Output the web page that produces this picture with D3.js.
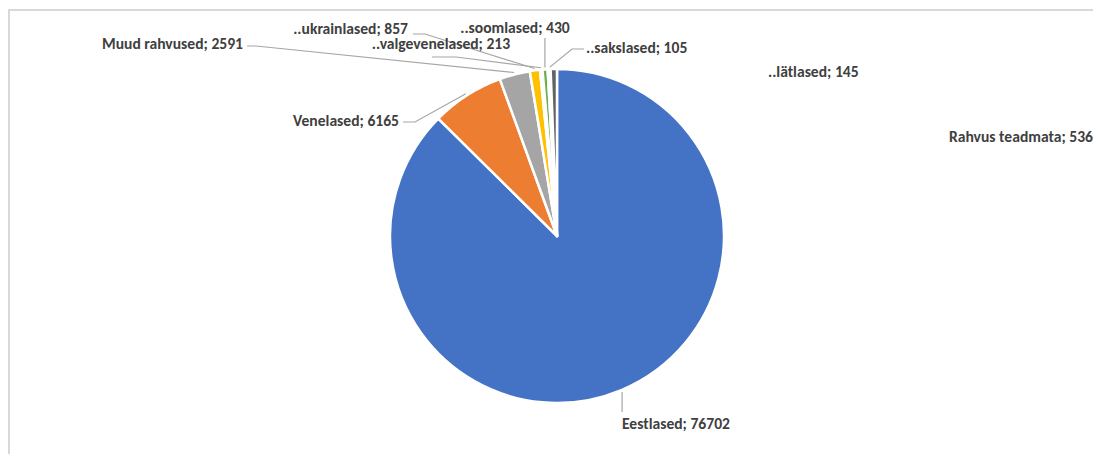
<!DOCTYPE html>
<html>
<head>
<meta charset="utf-8">
<script src="https://cdn.jsdelivr.net/npm/d3@7"></script>
<style>
  html, body { margin: 0; padding: 0; background: #fff; }
  svg { display: block; }
  .lbl { font-family: Carlito, Calibri, Lato, "Open Sans", sans-serif; font-weight: bold; font-size: 15.6px; fill: #404040; }
</style>
</head>
<body>
<svg id="chart" width="1093" height="454"></svg>
<script>
// ---- data ----
const categories = ["Eestlased", "Venelased", "Muud rahvused", "..ukrainlased", "..valgevenelased",
                    "..soomlased", "..lätlased", "..sakslased", "Rahvus teadmata"];
const values = [76702, 6165, 2591, 857, 213, 430, 145, 105, 536];
const colors = ["#4472C4", "#ED7D31", "#A5A5A5", "#FFC000", "#5B9BD5", "#70AD47", "#264478", "#9E480E", "#636363"];

// ---- label layout (anchor x, middle y, text anchor, leader attach point, knee point; null = no leader) ----
const labelX = [622, 399, 243, 408, 441, 515, 768, 586, 949];
const labelY = [424, 121, 44, 29, 44, 28, 72, 48, 137];
const labelAnchor = ["start", "end", "end", "end", "middle", "middle", "start", "start", "start"];
const attach = [[null, 412], [403, 122], [247, 46], [413, 34], [432, 57], [null, 38], null, [584, 49], null];
const knee   = [null, [415, 122], [256, 46], [425, 34], [456, 57], null, null, [572, 49], null];

const svg = d3.select("#chart");
const cx = 557, cy = 236, r = 167;

// chart border (extends past right/bottom)
svg.append("path")
  .attr("d", "M9,460 L9,10 L1100,10")
  .attr("fill", "none").attr("stroke", "#d9d9d9").attr("stroke-width", 2);

const pie = d3.pie().sort(null).value(d => d)(values);
const arc = d3.arc().innerRadius(0).outerRadius(r);
const g = svg.append("g").attr("transform", `translate(${cx},${cy})`);

g.selectAll("path.slice").data(pie).enter().append("path")
  .attr("class", "slice")
  .attr("d", arc)
  .attr("fill", (d, i) => colors[i])
  .attr("stroke", "#fff").attr("stroke-width", 2.5).attr("stroke-linejoin", "round");

// leaders
pie.forEach((d, i) => {
  if (!attach[i]) return;
  const a = (d.startAngle + d.endAngle) / 2;
  const px = cx + (r + 2) * Math.sin(a), py = cy - (r + 2) * Math.cos(a);
  const pts = [];
  const ax = attach[i][0] === null ? px : attach[i][0];
  pts.push([ax, attach[i][1]]);
  if (knee[i]) pts.push(knee[i]);
  pts.push([px, py]);
  svg.append("path").attr("d", d3.line()(pts))
    .attr("fill", "none").attr("stroke", "#a6a6a6").attr("stroke-width", 1.2);
});

// labels
svg.selectAll("text.lbl").data(pie).enter().append("text")
  .attr("class", "lbl")
  .attr("x", (d, i) => labelX[i])
  .attr("y", (d, i) => labelY[i])
  .attr("dy", "0.35em")
  .attr("text-anchor", (d, i) => labelAnchor[i])
  .text((d, i) => categories[i] + "; " + values[i]);
</script>
</body>
</html>
